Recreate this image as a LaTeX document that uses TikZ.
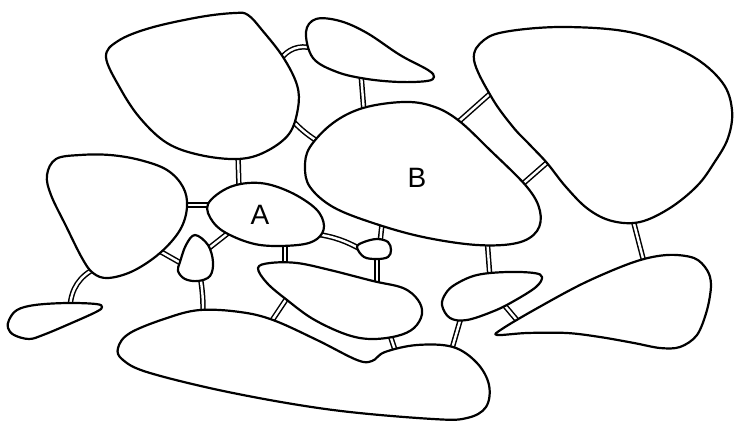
\documentclass[tikz,border=0pt]{standalone}
\usepackage{fontspec}
\setmainfont{Liberation Sans}
\begin{document}
\begin{tikzpicture}[x=1pt,y=-1pt,
  blob/.style={draw=black,fill=white,line width=2.2pt,line join=round},
  link/.style={draw=black,double=white,line width=1.5pt,double distance=2.4pt},
  lbl/.style={font=\fontsize{28}{30}\selectfont,inner sep=0pt}]
\useasboundingbox (0,0) rectangle (734,421);
% connector end points
\coordinate (c1a) at (280,60);  \coordinate (c1b) at (312,48);
\coordinate (c2a) at (361,74);  \coordinate (c2b) at (364,112);
\coordinate (c3a) at (290,118); \coordinate (c3b) at (322,144);
\coordinate (c4a) at (238,154); \coordinate (c4b) at (239,189);
\coordinate (c5a) at (182,205); \coordinate (c5b) at (214,205);
\coordinate (c6a) at (456,124); \coordinate (c6b) at (492,92);
\coordinate (c7a) at (518,188); \coordinate (c7b) at (550,160);
\coordinate (c8a) at (316,234); \coordinate (c8b) at (362,250);
\coordinate (c9a) at (380,243); \coordinate (c9b) at (382,224);
\coordinate (c10a) at (377,255); \coordinate (c10b) at (377,286);
\coordinate (c11a) at (285,240); \coordinate (c11b) at (285,269);
\coordinate (c12a) at (232,230); \coordinate (c12b) at (204,252);
\coordinate (c13a) at (156,249); \coordinate (c13b) at (186,266);
\coordinate (c14a) at (200,275); \coordinate (c14b) at (203,316);
\coordinate (c15a) at (96,268);  \coordinate (c15b) at (70,307);
\coordinate (c16a) at (289,295); \coordinate (c16b) at (269,325);
\coordinate (c17a) at (389,332); \coordinate (c17b) at (396,353);
\coordinate (c18a) at (487,238); \coordinate (c18b) at (490,278);
\coordinate (c19a) at (462,314); \coordinate (c19b) at (451,352);
\coordinate (c20a) at (500,300); \coordinate (c20b) at (521,325);
\coordinate (c21a) at (632,216); \coordinate (c21b) at (645,266);
% connectors
\draw[link] (c1a) to[bend left=35] (c1b);
\draw[link] (c2a) -- (c2b);
\draw[link] (c3a) to[bend right=8] (c3b);
\draw[link] (c4a) -- (c4b);
\draw[link] (c5a) -- (c5b);
\draw[link] (c6a) -- (c6b);
\draw[link] (c7a) -- (c7b);
\draw[link] (c8a) to[bend left=10] (c8b);
\draw[link] (c9a) -- (c9b);
\draw[link] (c10a) -- (c10b);
\draw[link] (c11a) -- (c11b);
\draw[link] (c12a) -- (c12b);
\draw[link] (c13a) -- (c13b);
\draw[link] (c14a) to[bend left=5] (c14b);
\draw[link] (c15a) to[bend right=30] (c15b);
\draw[link] (c16a) -- (c16b);
\draw[link] (c17a) -- (c17b);
\draw[link] (c18a) -- (c18b);
\draw[link] (c19a) -- (c19b);
\draw[link] (c20a) -- (c20b);
\draw[link] (c21a) -- (c21b);
% blobs
% top-left big
\draw[blob] plot[smooth cycle,tension=0.6] coordinates {(106,57) (118,41) (150,28) (200,17) (235,13) (248,15) (262,30) (283,57) (297,85) (298,108) (289,134) (265,152) (238,159) (200,155) (167,143) (140,118) (120,88)};
% top small
\draw[blob] plot[smooth cycle,tension=0.6] coordinates {(306,32) (316,19) (340,21) (367,33) (400,55) (428,70) (434,77) (427,81) (400,82) (367,79) (337,72) (313,58)};
% right big
\draw[blob] plot[smooth cycle,tension=0.6] coordinates {(474,60) (484,40) (510,31) (567,27) (634,33) (690,55) (722,82) (732,110) (728,138) (714,163) (697,186) (670,208) (640,222) (612,221) (588,209) (566,187) (547,163) (530,145) (513,127) (492,98)};
% B
\draw[blob] plot[smooth cycle,tension=0.6] coordinates {(403,102) (432,106) (458,120) (490,150) (527,187) (540,211) (537,231) (517,243) (477,245) (423,237) (373,223) (333,207) (310,187) (305,167) (310,147) (333,123) (363,108)};
% A
\draw[blob] plot[smooth cycle,tension=0.6] coordinates {(208,204) (230,187) (260,183) (290,192) (316,209) (324,226) (317,239) (298,245) (260,245) (230,235) (213,222)};
% left
\draw[blob] plot[smooth cycle,tension=0.6] coordinates {(47,175) (56,159) (80,155) (110,155) (140,160) (167,170) (183,187) (187,207) (180,230) (160,253) (133,271) (108,278) (93,273) (82,258) (66,226) (51,195)};
% small bulb left
\draw[blob] plot[smooth cycle,tension=0.6] coordinates {(195,235) (186,245) (180,262) (178,271) (185,279) (198,281) (210,276) (213,262) (208,245)};
% small bulb right
\draw[blob] plot[smooth cycle,tension=0.6] coordinates {(357,247) (364,242) (377,239) (388,242) (391,250) (388,257) (377,259) (364,257)};
% bottom-left small
\draw[blob] plot[smooth cycle,tension=0.6] coordinates {(9,320) (17,310) (35,305) (67,303) (96,304) (102,307) (96,312) (67,325) (43,335) (29,339) (14,335) (8,328)};
% middle elongated
\draw[blob] plot[smooth cycle,tension=0.6] coordinates {(258,268) (270,263) (297,263) (330,270) (373,281) (403,288) (418,300) (422,314) (414,328) (397,336) (370,339) (345,334) (313,319) (287,300) (267,283)};
% right middle
\draw[blob] plot[smooth cycle,tension=0.6] coordinates {(442,305) (446,293) (456,284) (477,275) (507,272) (534,273) (542,277) (536,287) (514,301) (494,311) (467,320) (450,318)};
% bottom-right
\draw[blob] plot[smooth cycle,tension=0.55] coordinates {(497,335) (502,329) (534,310) (584,283) (634,262) (667,255) (694,258) (707,270) (711,285) (707,310) (697,335) (680,347) (660,348) (634,343) (600,337) (567,333) (527,333)};
% bottom big
\draw[blob] plot[smooth cycle,tension=0.6] coordinates {(118,348) (130,333) (167,318) (200,310) (240,312) (273,320) (317,340) (357,360) (372,361) (385,352) (417,345) (453,347) (477,363) (489,385) (486,407) (467,418) (433,419) (333,410) (233,393) (150,373) (123,360)};
% labels
\node[lbl] (A) at (260,215) {A};
\node[lbl] (B) at (417,178) {B};
\end{tikzpicture}
\end{document}
